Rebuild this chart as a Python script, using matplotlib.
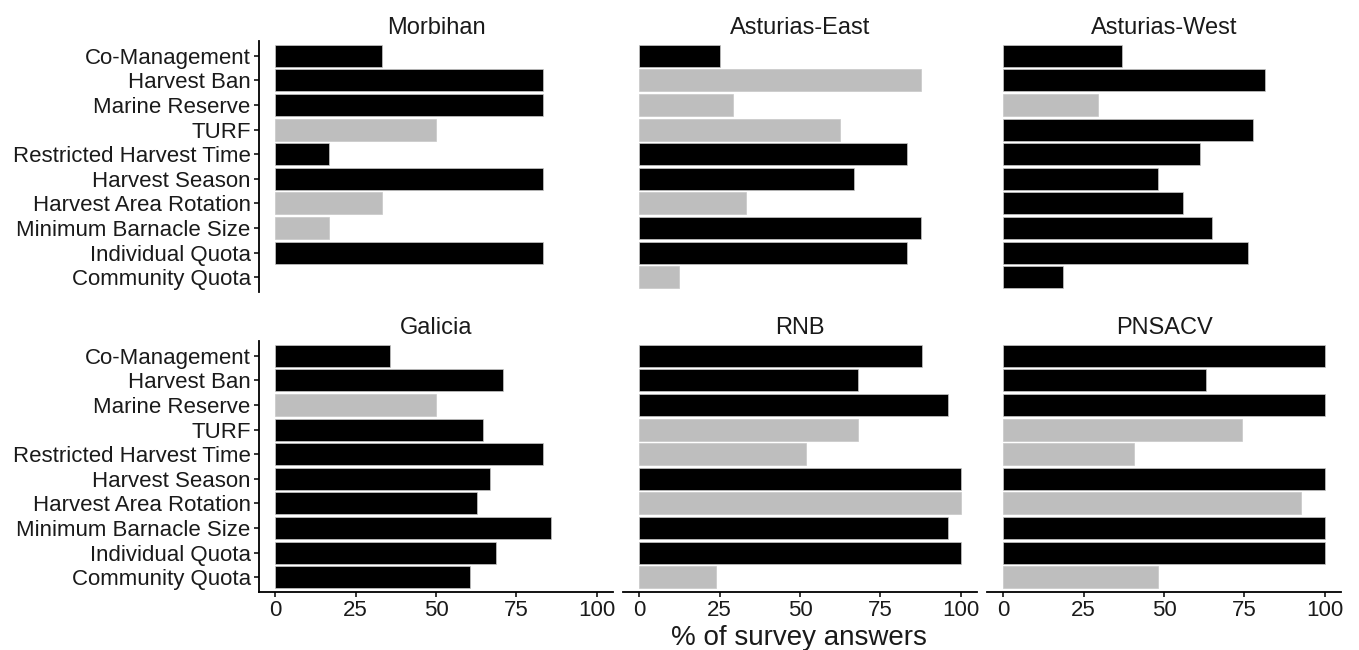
import matplotlib
matplotlib.use("Agg")
import matplotlib.pyplot as plt
import numpy as np

plt.rcParams['font.family'] = ['Liberation Sans', 'DejaVu Sans']

measures = ["Co-Management", "Harvest Ban", "Marine Reserve", "TURF",
            "Restricted Harvest Time", "Harvest Season", "Harvest Area Rotation",
            "Minimum Barnacle Size", "Individual Quota", "Community Quota"]

regions = ["Morbihan", "Asturias-East", "Asturias-West", "Galicia", "RNB", "PNSACV"]

# % of survey answers, same order as measures
morbihan = [33.3, 83.3, 83.3, 50.0, 16.7, 83.3, 33.3, 16.7, 83.3, 0]
asturias_east = [25.0, 87.5, 29.2, 62.5, 83.3, 66.7, 33.3, 87.5, 83.3, 12.5]
asturias_west = [37.0, 81.5, 29.6, 77.8, 61.3, 48.1, 55.8, 64.9, 76.2, 18.7]
galicia = [35.6, 70.9, 50.0, 64.7, 83.4, 66.9, 62.6, 85.6, 68.7, 60.7]
rnb = [88.0, 68.0, 96.0, 68.0, 52.0, 100, 100, 96.0, 100, 24.0]
pnsacv = [100, 63.0, 100, 74.1, 40.7, 100, 92.6, 100, 100, 48.1]

# 1 = black bar, 0 = grey bar
morbihan_dark = [1, 1, 1, 0, 1, 1, 0, 0, 1, 1]
asturias_east_dark = [1, 0, 0, 0, 1, 1, 0, 1, 1, 0]
asturias_west_dark = [1, 1, 0, 1, 1, 1, 1, 1, 1, 1]
galicia_dark = [1, 1, 0, 1, 1, 1, 1, 1, 1, 1]
rnb_dark = [1, 1, 1, 0, 0, 1, 0, 1, 1, 0]
pnsacv_dark = [1, 1, 1, 0, 0, 1, 0, 1, 1, 0]

values = [morbihan, asturias_east, asturias_west, galicia, rnb, pnsacv]
darks = [morbihan_dark, asturias_east_dark, asturias_west_dark,
         galicia_dark, rnb_dark, pnsacv_dark]

W, H = 1359, 650
fig = plt.figure(figsize=(W / 100, H / 100), dpi=100)

lefts = [259, 623, 987]
tops = [41, 341]
pw, ph = 354, 251
txt = "#1a1a1a"

ypos = np.arange(len(measures))
for k, reg in enumerate(regions):
    r, c = divmod(k, 3)
    ax = fig.add_axes([lefts[c] / W, 1 - (tops[r] + ph) / H, pw / W, ph / H])
    cols = ["black" if d else "#bebebe" for d in darks[k]]
    lws = [0.5 if v > 0 else 0 for v in values[k]]
    ax.barh(ypos, values[k], height=0.9, color=cols, edgecolor="#c8c8c8", linewidth=lws)
    ax.set_xlim(-5, 105)
    ax.set_ylim(len(measures) - 0.4, -0.6)
    ax.set_title(reg, fontsize=17, color=txt, pad=5)
    for s in ["top", "right"]:
        ax.spines[s].set_visible(False)
    ax.spines["left"].set_linewidth(1.3)
    ax.spines["bottom"].set_linewidth(1.3)
    if c == 0:
        ax.set_yticks(ypos)
        ax.set_yticklabels(measures)
        ax.tick_params(axis="y", length=3.5, width=1.1, pad=2.5, labelsize=16, labelcolor=txt)
    else:
        ax.spines["left"].set_visible(False)
        ax.set_yticks([])
    if r == 1:
        ax.set_xticks([0, 25, 50, 75, 100])
        ax.tick_params(axis="x", length=3.5, width=1.1, pad=2.5, labelsize=16, labelcolor=txt)
    else:
        ax.spines["bottom"].set_visible(False)
        ax.set_xticks([])

fig.text(799 / W, 1 - 638 / H, "% of survey answers", fontsize=20, color=txt,
         ha="center", va="center")

fig.savefig("out.png", dpi=100)
